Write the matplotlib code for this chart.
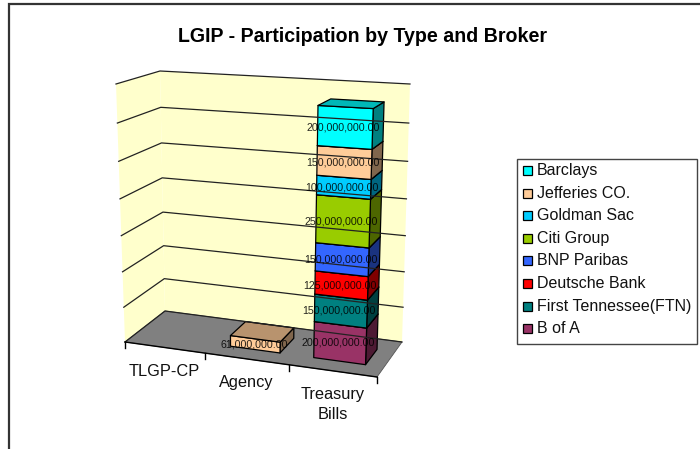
import matplotlib
matplotlib.use('Agg')
from matplotlib import pyplot as plt
from matplotlib.patches import Polygon, Rectangle
import numpy as np

plt.rcParams['font.family'] = ['Liberation Sans', 'DejaVu Sans']

categories = ['TLGP-CP', 'Agency', 'Treasury\nBills']
# stacked bottom to top, in millions
brokers = ['B of A', 'First Tennessee(FTN)', 'Deutsche Bank', 'BNP Paribas',
           'Citi Group', 'Goldman Sac', 'Jefferies CO.', 'Barclays']
b_of_a = [0, 0, 200]
first_tenn = [0, 0, 150]
deutsche = [0, 0, 125]
bnp = [0, 0, 150]
citi = [0, 0, 250]
goldman = [0, 0, 100]
jefferies = [0, 61, 150]
barclays = [0, 0, 200]
series = [b_of_a, first_tenn, deutsche, bnp, citi, goldman, jefferies, barclays]
colors = ['#993366', '#008080', '#FF0000', '#3366FF',
          '#99CC00', '#00CCFF', '#FFCC99', '#00FFFF']
axis_ticks = [0, 200, 400, 600, 800, 1000, 1200, 1400]

# corners of the 3d box in pixels: (right, top, back)
corners = np.array([[[[125, 342], [165, 311]], [[116, 84], [160, 71]]],
                    [[[377, 377], [402, 342]], [[387, 98], [410, 84]]]], float)
K = 1.07
YMAX = 1400.0
NCAT = len(categories)


def warp(t):
    return t / (t + K * (1 - t))


def project(cat, val, z):
    # cat in category units, val in millions, z 0 front 1 back
    u = warp(cat / NCAT)
    v = warp(val / YMAX)
    c = corners
    p = 0
    for i, a in ((0, 1 - u), (1, u)):
        for j, b in ((0, 1 - v), (1, v)):
            for k, d in ((0, 1 - z), (1, z)):
                p = p + a * b * d * c[i, j, k]
    return p


def shade(col, f):
    rgb = np.array(matplotlib.colors.to_rgb(col))
    return tuple(rgb * f)


fig = plt.figure(figsize=(7, 4.49), dpi=100)
ax = fig.add_axes([0, 0, 1, 1])
ax.set_xlim(0, 700)
ax.set_ylim(449, 0)
ax.axis('off')

# chart frame, runs off the right and bottom
ax.plot([9, 9, 700], [449, 4, 4], color='#333333', lw=1.6, solid_joinstyle='miter')

ax.text(362, 36, 'LGIP - Participation by Type and Broker', ha='center', va='center',
        fontsize=14.1, fontweight='bold', color='black')

# walls and floor
wall = '#FFFFCC'
ax.add_patch(Polygon([project(0, 0, 0), project(0, YMAX, 0), project(0, YMAX, 1), project(0, 0, 1)],
                     fc=wall, ec='none'))
ax.add_patch(Polygon([project(0, 0, 1), project(0, YMAX, 1), project(NCAT, YMAX, 1), project(NCAT, 0, 1)],
                     fc=wall, ec='none'))
ax.add_patch(Polygon([project(0, 0, 0), project(0, 0, 1), project(NCAT, 0, 1), project(NCAT, 0, 0)],
                     fc='#808080', ec='#555555', lw=0.6))

for t in axis_ticks:
    pts = np.array([project(0, t, 0), project(0, t, 1), project(NCAT, t, 1)])
    ax.plot(pts[:, 0], pts[:, 1], color='#222222', lw=0.9)

# category axis with ticks
front = np.array([project(0, 0, 0), project(NCAT, 0, 0)])
ax.plot(front[:, 0], front[:, 1], color='black', lw=1)
for i in range(NCAT + 1):
    p = project(i, 0, 0)
    ax.plot([p[0], p[0]], [p[1], p[1] + 6], color='black', lw=1)
for i, name in enumerate(categories):
    p = project(i + 0.5, 0, 0)
    ax.text(p[0], p[1] + 16.5, name, ha='center', va='top', fontsize=11.8,
            color='#111111', linespacing=1.35)

# bars
BW = 0.6
C0 = 0.49
Z0, Z1 = 0.28, 0.72
for i in range(NCAT):
    x0 = i + C0 - BW / 2
    x1 = i + C0 + BW / 2
    base = 0
    for vals, col in zip(series, colors):
        h = vals[i]
        if h == 0:
            continue
        top = base + h
        ax.add_patch(Polygon([project(x1, base, Z0), project(x1, top, Z0), project(x1, top, Z1), project(x1, base, Z1)],
                             fc=shade(col, 0.5), ec='black', lw=0.9, joinstyle='round'))
        ax.add_patch(Polygon([project(x0, base, Z0), project(x0, top, Z0), project(x1, top, Z0), project(x1, base, Z0)],
                             fc=col, ec='black', lw=0.9, joinstyle='round'))
        ax.add_patch(Polygon([project(x0, top, Z0), project(x0, top, Z1), project(x1, top, Z1), project(x1, top, Z0)],
                             fc=shade(col, 0.72), ec='black', lw=0.9, joinstyle='round'))
        base = top

# value labels go on top of everything
for i in range(NCAT):
    base = 0
    for vals in series:
        h = vals[i]
        if h == 0:
            continue
        p = project(i + C0 - 0.015, base + h / 2, Z0)
        ax.text(p[0], p[1], f'{h * 1000000:,.2f}', ha='center', va='center',
                fontsize=7.7, color='black', alpha=0.85)
        base += h

# legend, drawn by hand to keep the reverse order and square swatches
ax.add_patch(Rectangle((517, 159), 180, 185, fc='white', ec='#444444', lw=1))
for n, (name, col) in enumerate(zip(brokers[::-1], colors[::-1])):
    y = 170.5 + n * 22.6
    ax.add_patch(Rectangle((523, y - 4.5), 9, 9, fc=col, ec='black', lw=0.9))
    ax.text(537, y, name, ha='left', va='center', fontsize=11.5, color='#111111')

fig.savefig('out.png', dpi=100)
